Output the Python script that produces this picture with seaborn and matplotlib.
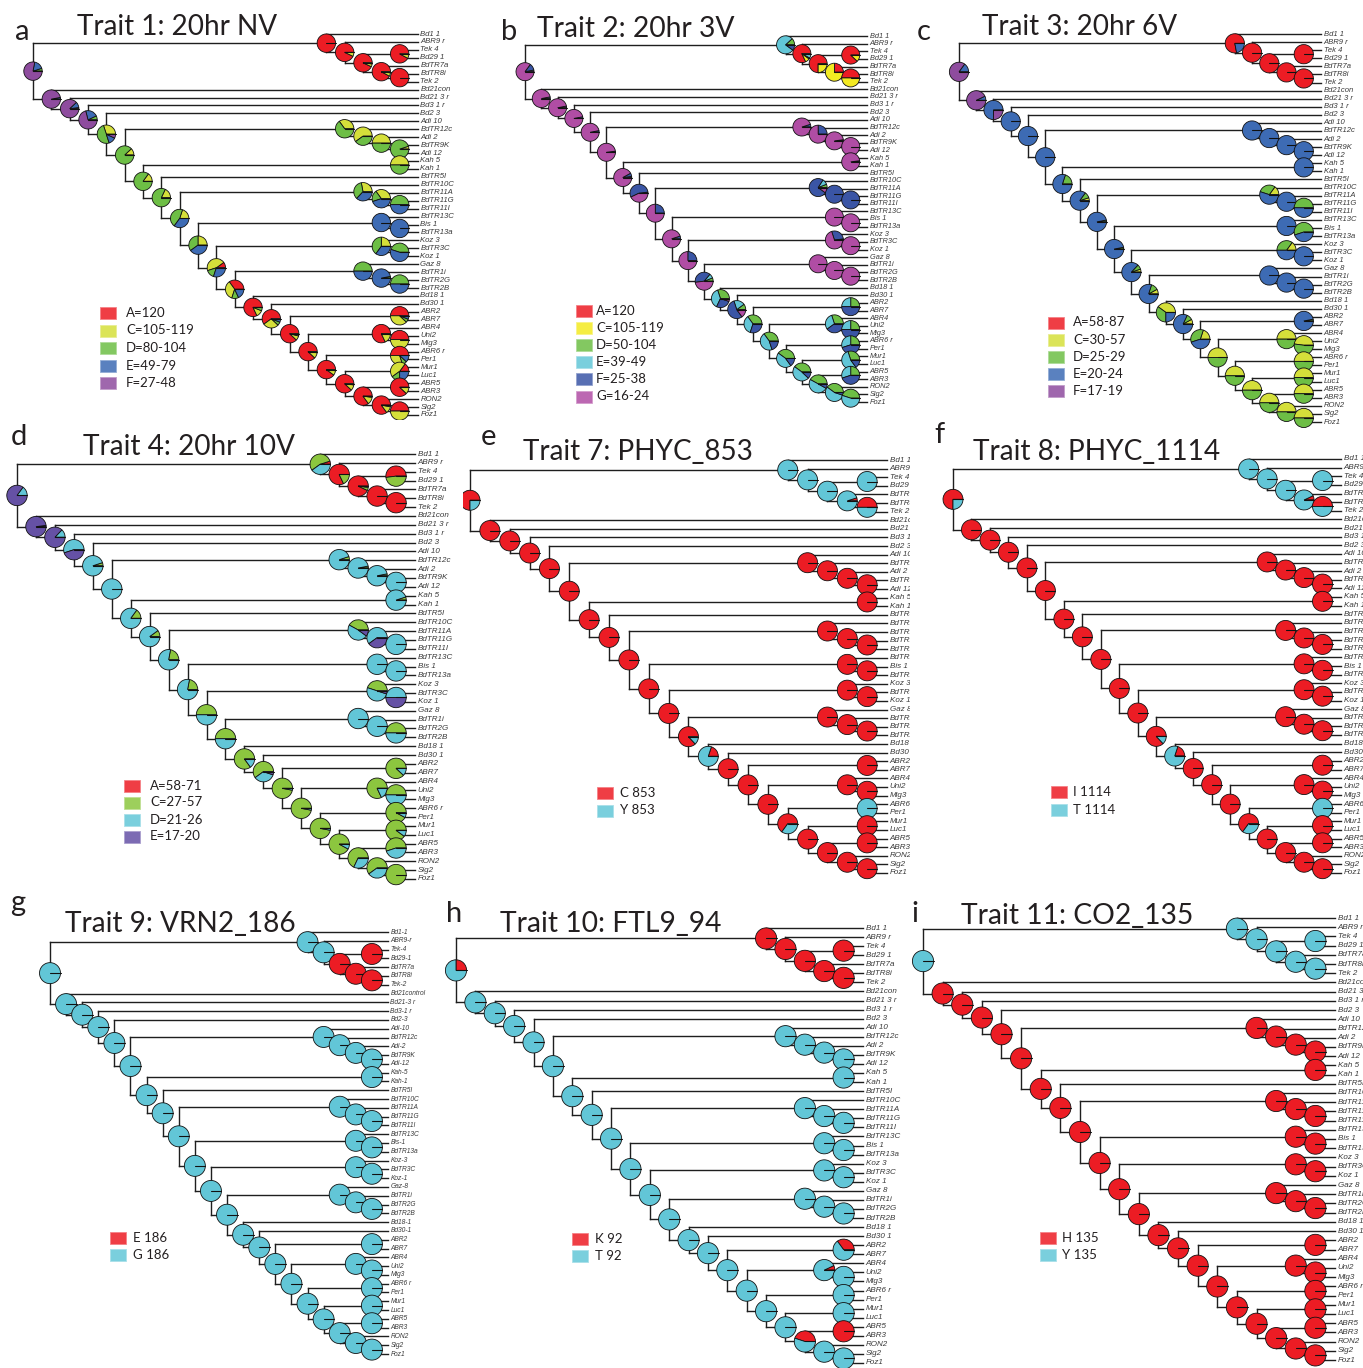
import numpy as np
import pandas as pd
import matplotlib
matplotlib.use("Agg")
import matplotlib.pyplot as plt
import matplotlib.transforms as mtransforms
from matplotlib.patches import Wedge, Rectangle
from matplotlib.lines import Line2D
import seaborn as sns

# ======================= DATA =======================
TIPS = ["Bd1 1", "ABR9 r", "Tek 4", "Bd29 1", "BdTR7a", "BdTR8i", "Tek 2", "Bd21con",
        "Bd21 3 r", "Bd3 1 r", "Bd2 3", "Adi 10", "BdTR12c", "Adi 2", "BdTR9K", "Adi 12",
        "Kah 5", "Kah 1", "BdTR5I", "BdTR10C", "BdTR11A", "BdTR11G", "BdTR11I", "BdTR13C",
        "Bis 1", "BdTR13a", "Koz 3", "BdTR3C", "Koz 1", "Gaz 8", "BdTR1i", "BdTR2G", "BdTR2B",
        "Bd18 1", "Bd30 1", "ABR2", "ABR7", "ABR4", "Uni2", "Mig3", "ABR6 r", "Per1", "Mur1",
        "Luc1", "ABR5", "ABR3", "RON2", "Sig2", "Foz1"]

TIPS_G = ["Bd1-1", "ABR9-r", "Tek-4", "Bd29-1", "BdTR7a", "BdTR8i", "Tek-2", "Bd21control",
          "Bd21-3 r", "Bd3-1 r", "Bd2-3", "Adi-10", "BdTR12c", "Adi-2", "BdTR9K", "Adi-12",
          "Kah-5", "Kah-1", "BdTR5I", "BdTR10C", "BdTR11A", "BdTR11G", "BdTR11I", "BdTR13C",
          "Bis-1", "BdTR13a", "Koz-3", "BdTR3C", "Koz-1", "Gaz-8", "BdTR1i", "BdTR2G", "BdTR2B",
          "Bd18-1", "Bd30-1", "ABR2", "ABR7", "ABR4", "Uni2", "Mig3", "ABR6 r", "Per1", "Mur1",
          "Luc1", "ABR5", "ABR3", "RON2", "Sig2", "Foz1"]

# tree topology: internal node -> (child1, child2)
NODES = {
    "root": ("T1", "B1"),
    "T1": ("Bd1 1", "T2"), "T2": ("ABR9 r", "T3"), "T3": ("T4", "T5"),
    "T4": ("Tek 4", "Bd29 1"), "T5": ("BdTR7a", "T6"), "T6": ("BdTR8i", "Tek 2"),
    "B1": ("Bd21con", "B2"), "B2": ("Bd21 3 r", "B3"), "B3": ("Bd3 1 r", "B4"),
    "B4": ("Bd2 3", "B5"), "B5": ("A1", "B6"),
    "A1": ("Adi 10", "A2"), "A2": ("BdTR12c", "A3"), "A3": ("Adi 2", "A4"), "A4": ("BdTR9K", "Adi 12"),
    "B6": ("KA", "B7"), "KA": ("Kah 5", "Kah 1"),
    "B7": ("BdTR5I", "B8"), "B8": ("R1", "B9"),
    "R1": ("BdTR10C", "R2"), "R2": ("BdTR11A", "R3"), "R3": ("BdTR11G", "BdTR11I"),
    "B9": ("S1", "B10"), "S1": ("BdTR13C", "S2"), "S2": ("Bis 1", "BdTR13a"),
    "B10": ("K1", "B11"), "K1": ("Koz 3", "K2"), "K2": ("BdTR3C", "Koz 1"),
    "B11": ("G1", "B12"), "G1": ("Gaz 8", "G2"), "G2": ("BdTR1i", "G3"), "G3": ("BdTR2G", "BdTR2B"),
    "B12": ("Bd18 1", "B13"), "B13": ("Bd30 1", "B14"),
    "B14": ("P1", "B15"), "P1": ("ABR2", "ABR7"),
    "B15": ("Q1", "B16"), "Q1": ("ABR4", "Q2"), "Q2": ("Uni2", "Mig3"),
    "B16": ("P2", "B17"), "P2": ("ABR6 r", "Per1"),
    "B17": ("P3", "B18"), "P3": ("Mur1", "Luc1"),
    "B18": ("P4", "B19"), "P4": ("ABR5", "ABR3"),
    "B19": ("RON2", "SF"), "SF": ("Sig2", "Foz1"),
}

# ---- panel a: Trait 1 (states A, C, D, E, F)
STATES_A = ["A=120", "C=105-119", "D=80-104", "E=49-79", "F=27-48"]
PIE_A = {
    "root": [0, 0, .05, .17, .78], "T1": [1, 0, 0, 0, 0], "T2": [.93, .07, 0, 0, 0],
    "T3": [.93, .05, .02, 0, 0], "T4": [.92, .08, 0, 0, 0], "T5": [.92, .06, .02, 0, 0],
    "T6": [1, 0, 0, 0, 0],
    "B1": [0, 0, 0, .03, .97], "B2": [0, 0, .02, .10, .88], "B3": [0, 0, .07, .22, .71],
    "B4": [0, .30, .50, .13, .07], "B5": [0, .12, .88, 0, 0], "B6": [0, .15, .85, 0, 0],
    "B7": [0, .18, .82, 0, 0], "B8": [0, .20, .45, .35, 0], "B9": [0, .25, .35, .40, 0],
    "B10": [.10, .45, .15, .30, 0], "B11": [.35, .35, .12, .18, 0], "B12": [.82, .12, .06, 0, 0],
    "B13": [.60, .28, .06, .06, 0], "B14": [.88, .08, .04, 0, 0], "B15": [.88, .10, .02, 0, 0],
    "B16": [.90, .08, .02, 0, 0], "B17": [.88, .10, .02, 0, 0], "B18": [.85, .13, .02, 0, 0],
    "B19": [.85, .12, .03, 0, 0], "SF": [.5, .5, 0, 0, 0],
    "A1": [0, .35, .65, 0, 0], "A2": [0, .60, .40, 0, 0], "A3": [0, .5, .5, 0, 0],
    "A4": [0, .05, .95, 0, 0], "KA": [0, .5, .5, 0, 0],
    "R1": [0, .28, .35, .37, 0], "R2": [0, .35, .20, .45, 0], "R3": [0, 0, .5, .5, 0],
    "S1": [0, 0, 0, 1, 0], "S2": [0, 0, 0, 1, 0],
    "K1": [0, .25, .40, .35, 0], "K2": [0, 0, .45, .55, 0],
    "G1": [0, 0, .5, .5, 0], "G2": [0, 0, .03, .97, 0], "G3": [0, 0, .5, .5, 0],
    "P1": [.50, .38, .06, .06, 0], "Q1": [.82, .16, .02, 0, 0], "Q2": [.5, .5, 0, 0, 0],
    "P2": [.50, .30, .08, .12, 0], "P3": [.15, .45, .15, .25, 0], "P4": [.88, .12, 0, 0, 0],
}

# ---- panel b: Trait 2 (states A, C, D, E, F, G)
STATES_B = ["A=120", "C=105-119", "D=50-104", "E=39-49", "F=25-38", "G=16-24"]
PIE_B = {
    "root": [0, 0, 0, .03, .12, .85], "T1": [0, 0, .12, .78, .10, 0],
    "T2": [.82, .08, .02, .08, 0, 0], "T3": [.75, .25, 0, 0, 0, 0], "T4": [.88, .12, 0, 0, 0, 0],
    "T5": [.25, .75, 0, 0, 0, 0], "T6": [.5, .5, 0, 0, 0, 0],
    "B1": [0, 0, 0, 0, .03, .97], "B2": [0, 0, 0, 0, .03, .97], "B3": [0, 0, 0, 0, .03, .97],
    "B4": [0, 0, 0, 0, .03, .97], "B5": [0, 0, 0, 0, .02, .98], "B6": [0, 0, 0, .02, .06, .92],
    "B7": [0, 0, 0, .02, .55, .43], "B8": [0, 0, 0, 0, .25, .75], "B9": [0, 0, 0, 0, .05, .95],
    "B10": [0, 0, 0, 0, .25, .75], "B11": [0, 0, .06, .08, .38, .48],
    "B12": [0, 0, .30, .38, .27, .05], "B13": [0, 0, .10, .20, .55, .15],
    "B14": [0, 0, .35, .35, .30, 0], "B15": [0, 0, .35, .45, .20, 0],
    "B16": [0, 0, .40, .45, .15, 0], "B17": [0, 0, .40, .48, .12, 0],
    "B18": [0, 0, .42, .50, .08, 0], "B19": [0, 0, .40, .55, .05, 0], "SF": [0, 0, .45, .55, 0, 0],
    "A1": [0, 0, 0, 0, .05, .95], "A2": [0, 0, 0, 0, .25, .75], "A3": [0, 0, 0, 0, .02, .98],
    "A4": [0, 0, 0, 0, 0, 1], "KA": [0, 0, 0, 0, .02, .98],
    "R1": [0, 0, .06, .10, .74, .10], "R2": [0, 0, 0, 0, 1, 0], "R3": [0, 0, 0, 0, 1, 0],
    "S1": [0, 0, 0, 0, 0, 1], "S2": [0, 0, 0, 0, 0, 1],
    "K1": [0, 0, .02, 0, .28, .70], "K2": [0, 0, 0, 0, 0, 1],
    "G1": [0, 0, 0, 0, 0, 1], "G2": [0, 0, 0, 0, 0, 1], "G3": [0, 0, 0, 0, 0, 1],
    "P1": [0, 0, .25, .25, .50, 0], "Q1": [0, 0, .30, .30, .40, 0], "Q2": [0, 0, .25, .25, .50, 0],
    "P2": [0, 0, .25, .30, .45, 0], "P3": [0, 0, .30, .55, .15, 0], "P4": [0, 0, .25, .30, .45, 0],
}

# ---- panel c: Trait 3 (states A, C, D, E, F)
STATES_C = ["A=58-87", "C=30-57", "D=25-29", "E=20-24", "F=17-19"]
PIE_C = {
    "root": [0, 0, 0, .15, .85], "T1": [.78, 0, 0, .22, 0], "T2": [1, 0, 0, 0, 0],
    "T3": [1, 0, 0, 0, 0], "T4": [1, 0, 0, 0, 0], "T5": [1, 0, 0, 0, 0], "T6": [1, 0, 0, 0, 0],
    "B1": [0, 0, 0, .07, .93], "B2": [0, 0, 0, .75, .25], "B3": [0, 0, 0, 1, 0],
    "B4": [0, 0, 0, 1, 0], "B5": [0, 0, 0, 1, 0], "B6": [0, 0, .20, .80, 0],
    "B7": [0, .05, .10, .85, 0], "B8": [0, 0, .03, .97, 0], "B9": [0, 0, .03, .97, 0],
    "B10": [0, .05, .08, .87, 0], "B11": [0, .08, .12, .80, 0], "B12": [0, .40, .35, .25, 0],
    "B13": [0, .08, .10, .82, 0], "B14": [0, .20, .35, .45, 0], "B15": [0, .5, .5, 0, 0],
    "B16": [0, .5, .5, 0, 0], "B17": [0, .5, .5, 0, 0], "B18": [0, .5, .5, 0, 0],
    "B19": [0, .5, .5, 0, 0], "SF": [0, .5, .5, 0, 0],
    "A1": [0, 0, 0, 1, 0], "A2": [0, 0, 0, 1, 0], "A3": [0, 0, 0, 1, 0], "A4": [0, 0, 0, 1, 0],
    "KA": [0, 0, 0, 1, 0],
    "R1": [0, .15, .30, .55, 0], "R2": [0, 0, 0, 1, 0], "R3": [0, 0, .5, .5, 0],
    "S1": [0, 0, 0, 1, 0], "S2": [0, 0, .55, .45, 0],
    "K1": [0, .15, .35, .50, 0], "K2": [0, 0, 0, 1, 0],
    "G1": [0, 0, 0, 1, 0], "G2": [0, 0, 0, 1, 0], "G3": [0, 0, 0, 1, 0],
    "P1": [0, 0, .03, .97, 0], "Q1": [0, .5, .5, 0, 0], "Q2": [0, .48, .52, 0, 0],
    "P2": [0, .5, .5, 0, 0], "P3": [0, .5, .5, 0, 0], "P4": [0, .5, .5, 0, 0],
}

# ---- panel d: Trait 4 (states A, C, D, E)
STATES_D = ["A=58-71", "C=27-57", "D=21-26", "E=17-20"]
PIE_D = {
    "root": [0, 0, .15, .85], "T1": [.05, .55, .40, 0], "T2": [.82, .18, 0, 0],
    "T3": [.93, .05, .02, 0], "T4": [.52, .48, 0, 0], "T5": [1, 0, 0, 0], "T6": [1, 0, 0, 0],
    "B1": [0, 0, .02, .98], "B2": [0, 0, .13, .87], "B3": [0, 0, .55, .45], "B4": [0, .05, .95, 0],
    "B5": [0, 0, 1, 0], "B6": [0, .15, .85, 0], "B7": [0, .10, .90, 0], "B8": [0, .22, .78, 0],
    "B9": [0, .22, .78, 0], "B10": [0, .5, .5, 0], "B11": [0, .5, .5, 0], "B12": [0, .85, .15, 0],
    "B13": [0, .60, .35, .05], "B14": [0, .97, .03, 0], "B15": [0, .97, .03, 0],
    "B16": [0, .97, .03, 0], "B17": [0, .92, .08, 0], "B18": [0, .68, .32, 0],
    "B19": [0, .60, .40, 0], "SF": [0, 1, 0, 0],
    "A1": [0, .05, .95, 0], "A2": [0, .03, .97, 0], "A3": [0, .03, .97, 0], "A4": [0, 0, 1, 0],
    "KA": [0, .05, .95, 0],
    "R1": [0, .42, .48, .10], "R2": [0, 0, .60, .40], "R3": [0, 0, 1, 0],
    "S1": [0, 0, 1, 0], "S2": [0, 0, 1, 0],
    "K1": [0, .45, .50, .05], "K2": [0, 0, .5, .5],
    "G1": [0, 0, 1, 0], "G2": [0, 0, 1, 0], "G3": [0, .5, .5, 0],
    "P1": [0, .88, .12, 0], "Q1": [0, .82, .18, 0], "Q2": [0, .5, .5, 0],
    "P2": [0, .92, .08, 0], "P3": [0, .90, .10, 0], "P4": [0, .55, .45, 0],
}

# ---- binary panels: default share for unlisted nodes + nodes that differ
STATES_E = ["C 853", "Y 853"]
PIE_E_OTHER = [1, 0]
PIE_E = {"root": [.75, .25], "T1": [0, 1], "T2": [0, 1], "T3": [0, 1], "T4": [0, 1],
         "T5": [.05, .95], "T6": [.5, .5], "B11": [.87, .13], "B12": [.20, .80],
         "B16": [.65, .35], "P2": [0, 1]}

STATES_F = ["I 1114", "T 1114"]
PIE_F_OTHER = [1, 0]
PIE_F = {"root": [.75, .25], "T1": [0, 1], "T2": [0, 1], "T3": [0, 1], "T4": [0, 1],
         "T5": [.07, .93], "T6": [.5, .5], "B11": [.87, .13], "B12": [.20, .80],
         "B16": [.65, .35], "P2": [0, 1]}

STATES_G = ["E 186", "G 186"]
PIE_G_OTHER = [0, 1]
PIE_G = {"T3": [1, 0], "T4": [1, 0], "T5": [1, 0], "T6": [1, 0]}

STATES_H = ["K 92", "T 92"]
PIE_H_OTHER = [0, 1]
PIE_H = {"root": [.25, .75], "T1": [1, 0], "T2": [1, 0], "T3": [1, 0], "T4": [1, 0],
         "T5": [1, 0], "T6": [1, 0], "P1": [.35, .65], "Q1": [.07, .93], "P4": [1, 0],
         "B18": [.45, .55]}

STATES_I = ["H 135", "Y 135"]
PIE_I_OTHER = [1, 0]
PIE_I = {"root": [0, 1], "T1": [0, 1], "T2": [0, 1], "T3": [0, 1], "T4": [0, 1],
         "T5": [0, 1], "T6": [0, 1]}

TITLES = ["Trait 1: 20hr NV", "Trait 2: 20hr 3V", "Trait 3: 20hr 6V", "Trait 4: 20hr 10V",
          "Trait 7: PHYC_853", "Trait 8: PHYC_1114", "Trait 9: VRN2_186", "Trait 10: FTL9_94",
          "Trait 11: CO2_135"]
LETTERS = ["a", "b", "c", "d", "e", "f", "g", "h", "i"]

# ======================= STYLE =======================
RED = "#EC1C24"
YEL = "#D5DF3A"
YEL_B = "#F3EA22"
GRN = "#6DBE45"
GRN_D = "#8CC63F"
BLU = "#3D6BB4"
BLU_B = "#3A55A5"
PUR = "#8E4C9E"
MAG = "#B04DA4"
CYN = "#62C6D7"
IND = "#6551A5"

COLS_A = [RED, YEL, GRN, BLU, PUR]
COLS_B = [RED, YEL_B, GRN, CYN, BLU_B, MAG]
COLS_C = [RED, YEL, GRN, BLU, PUR]
COLS_D = [RED, GRN_D, CYN, IND]
COLS_2 = [RED, CYN]

W, H, DPI = 1363, 1368, 100
sns.set_theme(style="white")
plt.rcParams['font.family'] = ['Liberation Sans', 'DejaVu Sans']
TITLE_FONT = ['Lato', 'DejaVu Sans']
INK = "#231F20"

fig = plt.figure(figsize=(W / DPI, H / DPI), dpi=DPI)
fig.patch.set_facecolor("white")
overlay = fig.add_axes([0, 0, 1, 1])
overlay.set_xlim(0, W)
overlay.set_ylim(H, 0)
overlay.axis("off")
renderer = fig.canvas.get_renderer()


def lighten(c, amt):
    rgb = np.array(matplotlib.colors.to_rgb(c))
    return tuple(rgb + (1 - rgb) * amt)


def layout(nodes, root="root"):
    order, height = [], {}

    def walk(n):
        if n not in nodes:
            order.append(n)
            height[n] = 0
            return
        for ch in nodes[n]:
            walk(ch)
        height[n] = 1 + max(height[ch] for ch in nodes[n])

    walk(root)
    ypos = {t: float(i) for i, t in enumerate(order)}

    def yw(n):
        if n in ypos:
            return ypos[n]
        ypos[n] = float(np.mean([yw(ch) for ch in nodes[n]]))
        return ypos[n]

    yw(root)
    hmax = height[root]
    xpos = {n: float(hmax - height[n]) for n in height}
    pre = []

    def prewalk(n):
        if n in nodes:
            pre.append(n)
            for ch in nodes[n]:
                prewalk(ch)

    prewalk(root)
    return order, xpos, ypos, pre, hmax


ORDER, XPOS, YPOS, PREORDER, HMAX = layout(NODES)
NTIP = len(ORDER)

PANELS = [
    dict(states=STATES_A, pies=PIE_A, other=None, cols=COLS_A, labels=TIPS,
         root_x=33, tip_x=418, y0=34, y1=415, r=9.2, fs=5.6, clip=(0, 0, 460, 420),
         title=(77, 35, 200), letter=(15, 40), leg=(100, 313, 17.5, 126)),
    dict(states=STATES_B, pies=PIE_B, other=None, cols=COLS_B, labels=TIPS,
         root_x=525, tip_x=867, y0=36, y1=402, r=9.0, fs=5.3, clip=(470, 0, 908, 420),
         title=(537, 37, 198), letter=(501, 40), leg=(576, 311, 17.1, 596)),
    dict(states=STATES_C, pies=PIE_C, other=None, cols=COLS_C, labels=TIPS,
         root_x=959, tip_x=1321, y0=34, y1=422, r=9.6, fs=5.5, clip=(910, 0, 1363, 428),
         title=(982, 35, 195), letter=(917, 40), leg=(1048, 322.5, 17.1, 1073)),
    dict(states=STATES_D, pies=PIE_D, other=None, cols=COLS_D, labels=TIPS,
         root_x=17, tip_x=415, y0=454, y1=879, r=10.2, fs=5.8, clip=(0, 425, 458, 890),
         title=(83, 455, 212), letter=(11, 445), leg=(124, 785.5, 17.0, 150)),
    dict(states=STATES_E, pies=PIE_E, other=PIE_E_OTHER, cols=COLS_2, labels=TIPS,
         root_x=470, tip_x=887, y0=460, y1=873, r=10.0, fs=5.8, clip=(463, 425, 910, 890),
         title=(523, 460, 230), letter=(481, 445), leg=(597, 793, 17.5, 620)),
    dict(states=STATES_F, pies=PIE_F, other=PIE_F_OTHER, cols=COLS_2, labels=TIPS,
         root_x=953, tip_x=1341, y0=459, y1=873, r=10.0, fs=5.8, clip=(912, 425, 1363, 890),
         title=(973, 460, 247), letter=(934, 443), leg=(1051, 792, 17.5, 1073)),
    dict(states=STATES_G, pies=PIE_G, other=PIE_G_OTHER, cols=COLS_2, labels=TIPS_G,
         root_x=50, tip_x=388, y0=932, y1=1354, r=10.5, fs=4.8, clip=(0, 888, 432, 1368),
         title=(65, 932, 231), letter=(10, 911), leg=(110, 1238, 17.0, 133)),
    dict(states=STATES_H, pies=PIE_H, other=PIE_H_OTHER, cols=COLS_2, labels=TIPS,
         root_x=456, tip_x=863, y0=928, y1=1363, r=10.6, fs=5.8, clip=(436, 888, 905, 1368),
         title=(500, 932, 222), letter=(446, 922), leg=(572, 1239, 17.0, 595)),
    dict(states=STATES_I, pies=PIE_I, other=PIE_I_OTHER, cols=COLS_2, labels=TIPS,
         root_x=923, tip_x=1335, y0=918, y1=1360, r=10.6, fs=5.8, clip=(905, 888, 1363, 1368),
         title=(961, 924, 232), letter=(911, 922), leg=(1040, 1238, 17.0, 1062)),
]


def clip_box(c):
    x0, y0, x1, y1 = c
    bb = mtransforms.Bbox.from_extents(x0 / W, 1 - y1 / H, x1 / W, 1 - y0 / H)
    return mtransforms.TransformedBbox(bb, fig.transFigure)


def apply_clip(artist, box):
    artist.set_clip_on(True)
    artist.set_clip_path(None)
    artist.set_clip_box(box)


for p, title, letter in zip(PANELS, TITLES, LETTERS):
    box = clip_box(p["clip"])
    left, right = p["root_x"] / W, p["tip_x"] / W
    bottom, top = 1 - p["y1"] / H, 1 - p["y0"] / H
    ax = fig.add_axes([left, bottom, right - left, top - bottom])

    # ---- branches (seaborn line plot, one unit per segment)
    rows, seg = [], 0
    for n in PREORDER:
        c1, c2 = NODES[n]
        rows += [(seg, XPOS[n], YPOS[c1]), (seg, XPOS[n], YPOS[c2])]
        seg += 1
        for ch in (c1, c2):
            rows += [(seg, XPOS[n], YPOS[ch]), (seg, XPOS[ch], YPOS[ch])]
            seg += 1
    df = pd.DataFrame(rows, columns=["seg", "x", "y"])
    sns.lineplot(data=df, x="x", y="y", units="seg", estimator=None, sort=False,
                 color="#1E1E1E", linewidth=1.0, solid_capstyle="projecting",
                 legend=False, ax=ax, zorder=1)
    for ln in ax.lines:
        apply_clip(ln, box)

    ax.set_xlim(0, HMAX)
    ax.set_ylim(NTIP - 1, 0)
    ax.axis("off")

    # ---- pies at internal nodes (drawn above the branches)
    rr = p["r"] / DPI
    for k, n in enumerate(PREORDER):
        z = 3 + k * 0.01
        fr = p["pies"].get(n, p["other"])
        fr = np.asarray(fr, dtype=float)
        tr = fig.dpi_scale_trans + mtransforms.ScaledTranslation(XPOS[n], YPOS[n], ax.transData)
        start = 0.0
        for f, col in zip(fr / fr.sum(), p["cols"]):
            if f <= 0:
                continue
            ang = 360.0 * f
            w = Wedge((0, 0), rr, start, start + ang, facecolor=col, edgecolor="#111111",
                      linewidth=0.6, transform=tr, zorder=z)
            ax.add_patch(w)
            apply_clip(w, box)
            start += ang
        ln = Line2D([0, rr], [0, 0], color="#111111", linewidth=0.8, transform=tr,
                    zorder=z + 0.005)
        ax.add_line(ln)
        apply_clip(ln, box)

    # ---- tip labels
    off = mtransforms.ScaledTranslation(2.5 / DPI, 0, fig.dpi_scale_trans)
    for tip, lab in zip(ORDER, p["labels"]):
        t = ax.text(XPOS[tip], YPOS[tip], lab, fontsize=p["fs"], style="italic",
                    color="#3A3A3A", ha="left", va="center", transform=ax.transData + off)
        apply_clip(t, box)

    # ---- title + panel letter
    tx, ty, tw = p["title"]
    tt = overlay.text(tx, ty, title, fontsize=20, family=TITLE_FONT, color=INK,
                      ha="left", va="baseline")
    wpx = tt.get_window_extent(renderer).width
    tt.set_fontsize(20 * tw / wpx)
    lx, ly = p["letter"]
    overlay.text(lx, ly, letter, fontsize=21, family=TITLE_FONT, color=INK,
                 ha="left", va="baseline")

    # ---- legend
    px, py, dy, txx = p["leg"]
    for k, (st, col) in enumerate(zip(p["states"], p["cols"])):
        cy = py + k * dy
        overlay.add_patch(Rectangle((px, cy - 6), 16, 12, facecolor=lighten(col, 0.15),
                                    edgecolor=lighten(col, 0.45), linewidth=0.6))
        overlay.text(txx, cy, st, fontsize=9.5, family=TITLE_FONT, color=INK,
                     ha="left", va="center")

fig.savefig("out.png", dpi=DPI, facecolor="white")
